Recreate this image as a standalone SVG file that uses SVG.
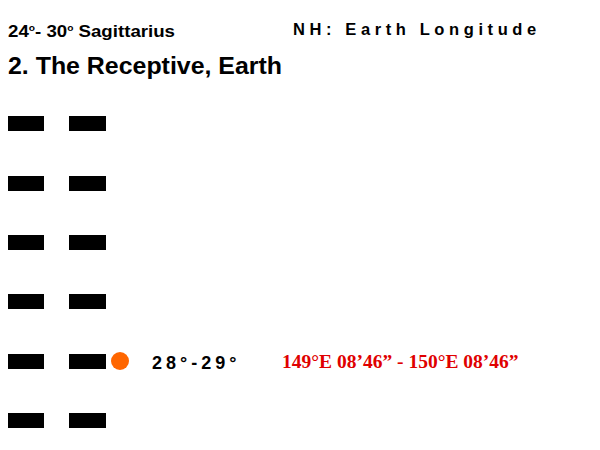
<svg xmlns="http://www.w3.org/2000/svg" width="600" height="450" viewBox="0 0 600 450">
<style>
.bar{fill:#000}
.t{font-family:"Liberation Sans",Arial,sans-serif;font-weight:bold;fill:#000}
.r{font-family:"Liberation Serif","Times New Roman",serif;font-weight:bold;fill:#e00000;font-size:19.5px}
</style>
<rect width="600" height="450" fill="#fff"/>
<text class="t" x="8" y="37" font-size="16.5" textLength="167" lengthAdjust="spacingAndGlyphs">24<tspan font-size="9" dy="-6">o</tspan><tspan dy="6">- 30</tspan><tspan font-size="9" dy="-6">o</tspan><tspan dy="6"> Sagittarius</tspan></text>
<text class="t" x="293" y="35" font-size="16.5" letter-spacing="4.6">NH: Earth Longitude</text>
<text class="t" x="8" y="74" font-size="23" textLength="274" lengthAdjust="spacingAndGlyphs">2. The Receptive, Earth</text>
<g id="hexagram">
<g id="line6"><rect class="bar" x="8" y="116" width="36" height="15"/><rect class="bar" x="69" y="116" width="37" height="15"/></g>
<g id="line5"><rect class="bar" x="8" y="176" width="36" height="15"/><rect class="bar" x="69" y="176" width="37" height="15"/></g>
<g id="line4"><rect class="bar" x="8" y="235" width="36" height="15"/><rect class="bar" x="69" y="235" width="37" height="15"/></g>
<g id="line3"><rect class="bar" x="8" y="294" width="36" height="15"/><rect class="bar" x="69" y="294" width="37" height="15"/></g>
<g id="line2"><rect class="bar" x="8" y="354" width="36" height="15"/><rect class="bar" x="69" y="354" width="37" height="15"/></g>
<g id="line1"><rect class="bar" x="8" y="413" width="36" height="15"/><rect class="bar" x="69" y="413" width="37" height="15"/></g>
</g>
<g id="marker"><circle cx="120" cy="361" r="9" fill="#ff6600"/></g>
<text class="t" x="152" y="369" font-size="18" letter-spacing="4">28°-29°</text>
<text class="r" x="282" y="368">149°E 08’46” - 150°E 08’46”</text>
</svg>
